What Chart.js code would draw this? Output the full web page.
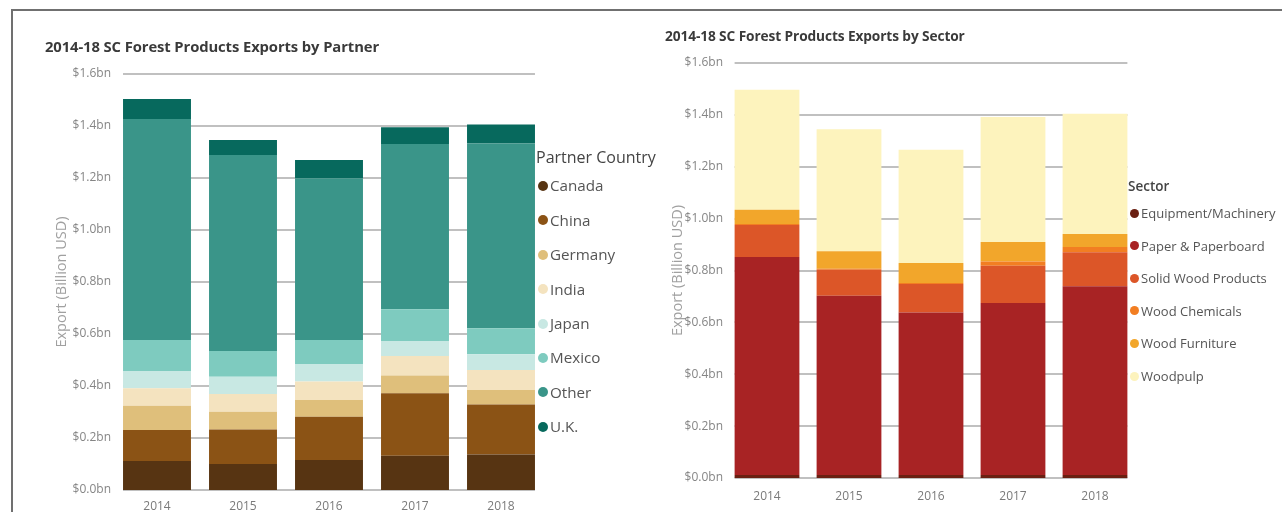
<!DOCTYPE html>
<html>
<head>
<meta charset="utf-8">
<script src="https://cdn.jsdelivr.net/npm/chart.js@4.4.1/dist/chart.umd.min.js"></script>
<style>
  html, body { margin: 0; padding: 0; background: #fff; }
  body { width: 1282px; height: 512px; position: relative; overflow: hidden; font-family: 'Open Sans', 'Noto Sans', sans-serif; }
  .frame { position: absolute; left: 11px; top: 9px; width: 1300px; height: 600px; border-top: 2px solid #707070; border-left: 2px solid #707070; }
  canvas { position: absolute; top: 0; }
  .title { position: absolute; font-weight: 700; color: #3a3a3a; line-height: 20px; white-space: nowrap; letter-spacing: -0.1px; }
  .legend { position: absolute; white-space: nowrap; }
  .legend .lt { position: absolute; color: #444; white-space: nowrap; }
  .legend .it { position: absolute; color: #555; white-space: nowrap; }
  .legend .dot { position: absolute; border-radius: 50%; }
</style>
</head>
<body>
<div class="frame"></div>
<canvas id="c1" width="640" height="512" style="left:0px"></canvas>
<canvas id="c2" width="642" height="512" style="left:640px"></canvas>
<div class="title" style="left:45px; top:36px; font-size:14.8px;">2014-18 SC Forest Products Exports by Partner</div>
<div class="title" style="left:665px; top:26px; font-size:13.7px;">2014-18 SC Forest Products Exports by Sector</div>
<div id="leg1" class="legend"></div>
<div id="leg2" class="legend"></div>
<script>
// ---- Data ----
const years = ['2014', '2015', '2016', '2017', '2018'];

// Partner chart (billion USD)
const partnerNames = ['Canada', 'China', 'Germany', 'India', 'Japan', 'Mexico', 'Other', 'U.K.'];
const canada  = [0.112, 0.100, 0.115, 0.132, 0.137];
const china   = [0.119, 0.133, 0.167, 0.240, 0.192];
const germany = [0.093, 0.068, 0.064, 0.068, 0.056];
const india   = [0.067, 0.068, 0.071, 0.075, 0.077];
const japan   = [0.067, 0.067, 0.068, 0.058, 0.060];
const mexico  = [0.119, 0.099, 0.092, 0.122, 0.100];
const other   = [0.850, 0.753, 0.622, 0.636, 0.711];
const uk      = [0.077, 0.058, 0.070, 0.064, 0.073];

// Sector chart (billion USD)
const sectorNames = ['Equipment/Machinery', 'Paper & Paperboard', 'Solid Wood Products', 'Wood Chemicals', 'Wood Furniture', 'Woodpulp'];
const equipment = [0.012, 0.012, 0.012, 0.012, 0.012];
const paper     = [0.840, 0.691, 0.626, 0.663, 0.727];
const solidWood = [0.123, 0.100, 0.110, 0.143, 0.131];
const chemicals = [0.004, 0.004, 0.004, 0.017, 0.021];
const furniture = [0.055, 0.067, 0.077, 0.075, 0.050];
const woodpulp  = [0.463, 0.471, 0.437, 0.482, 0.463];

const yTicks = [0, 0.2, 0.4, 0.6, 0.8, 1.0, 1.2, 1.4, 1.6];

// ---- Styles ----
const partnerColors = ['#573412', '#8b5315', '#dfbf7b', '#f4e3bf', '#c8e8e3', '#7ecbbf', '#3a9589', '#07695d'];
const sectorColors  = ['#6a2012', '#a82324', '#dc5628', '#f27e22', '#f2a62b', '#fdf3bd'];
const partnerSeries = [canada, china, germany, india, japan, mexico, other, uk];
const sectorSeries  = [equipment, paper, solidWood, chemicals, furniture, woodpulp];

const FONT = "'Open Sans', 'Noto Sans', sans-serif";

const gridPlugin = {
  id: 'barGrid',
  beforeDatasetsDraw(chart) {
    const ctx = chart.ctx;
    const meta0 = chart.getDatasetMeta(0);
    const first = meta0.data[0], last = meta0.data[meta0.data.length - 1];
    const x0 = first.x - first.width / 2;
    const x1 = last.x + last.width / 2;
    const ys = chart.scales.y;
    ctx.save();
    ctx.strokeStyle = '#c0c0c0';
    ctx.lineWidth = 2;
    ys.ticks.forEach(t => {
      const y = Math.round(ys.getPixelForValue(t.value));
      ctx.beginPath();
      ctx.moveTo(x0, y);
      ctx.lineTo(x1, y);
      ctx.stroke();
    });
    ctx.restore();
  }
};

function makeChart(id, names, series, colors, cfg) {
  const datasets = names.map((n, i) => ({
    label: n,
    data: series[i],
    backgroundColor: colors[i],
    borderWidth: 0,
    categoryPercentage: 1.0,
    barPercentage: cfg.barPct
  }));
  return new Chart(document.getElementById(id), {
    type: 'bar',
    data: { labels: years, datasets },
    plugins: [gridPlugin],
    options: {
      responsive: false,
      animation: false,
      devicePixelRatio: 1,
      layout: { padding: { left: 0, right: cfg.padRight, top: cfg.top, bottom: 0 } },
      plugins: { legend: { display: false }, tooltip: { enabled: false }, title: { display: false } },
      scales: {
        x: {
          stacked: true,
          grid: { display: false, drawTicks: false },
          border: { display: false },
          ticks: { color: '#7a7a7a', font: { family: FONT, size: 12 }, padding: cfg.xPad, maxRotation: 0 },
          afterFit(s) { s.height = cfg.xHeight; }
        },
        y: {
          stacked: true,
          min: 0, max: 1.6,
          grid: { display: false, drawTicks: false },
          border: { display: false },
          afterBuildTicks(s) { s.ticks = yTicks.map(v => ({ value: v })); },
          ticks: {
            color: '#858585',
            font: { family: FONT, size: 12 },
            padding: 3,
            callback: v => '$' + Number(v).toFixed(1) + 'bn'
          },
          title: {
            display: true,
            text: 'Export (Billion USD)',
            color: '#a0a0a0',
            font: { family: FONT, size: 14.5 },
            padding: { top: cfg.titlePad, bottom: 0 }
          },
          afterFit(s) { s.width = cfg.yWidth; }
        }
      }
    }
  });
}

makeChart('c1', partnerNames, partnerSeries, partnerColors,
  { barPct: 0.79, padRight: 96, top: 74, xHeight: 22, xPad: 9, yWidth: 114, titlePad: 53 });
makeChart('c2', sectorNames, sectorSeries, sectorColors,
  { barPct: 0.79, padRight: 146, top: 63, xHeight: 34, xPad: 11, yWidth: 86, titlePad: 29 });

function buildLegend(elId, title, names, colors, o) {
  const el = document.getElementById(elId);
  const t = document.createElement('div');
  t.className = 'lt';
  t.textContent = title;
  t.style.left = o.x + 'px';
  t.style.top = (o.titleY - o.titleSize * 0.7) + 'px';
  t.style.fontSize = o.titleSize + 'px';
  t.style.fontWeight = o.titleWeight;
  t.style.lineHeight = (o.titleSize * 1.4) + 'px';
  el.appendChild(t);
  names.forEach((n, i) => {
    const cy = o.firstY + i * o.step;
    const d = document.createElement('div');
    d.className = 'dot';
    d.style.width = d.style.height = o.dot + 'px';
    d.style.left = (o.dotX - o.dot / 2) + 'px';
    d.style.top = (cy - o.dot / 2) + 'px';
    d.style.background = colors[i];
    el.appendChild(d);
    const s = document.createElement('div');
    s.className = 'it';
    s.textContent = n;
    s.style.left = o.textX + 'px';
    s.style.top = (cy - o.size * 0.7) + 'px';
    s.style.fontSize = o.size + 'px';
    s.style.lineHeight = (o.size * 1.4) + 'px';
    el.appendChild(s);
  });
}

buildLegend('leg1', 'Partner Country', partnerNames, partnerColors,
  { x: 536, titleY: 157, titleSize: 16, titleWeight: 400, firstY: 186, step: 34.4, dot: 10, dotX: 543, textX: 550, size: 15.2 });
buildLegend('leg2', 'Sector', sectorNames, sectorColors,
  { x: 1128, titleY: 186, titleSize: 13.5, titleWeight: 600, firstY: 213, step: 32.6, dot: 9, dotX: 1134, textX: 1141, size: 13 });
</script>
</body>
</html>
